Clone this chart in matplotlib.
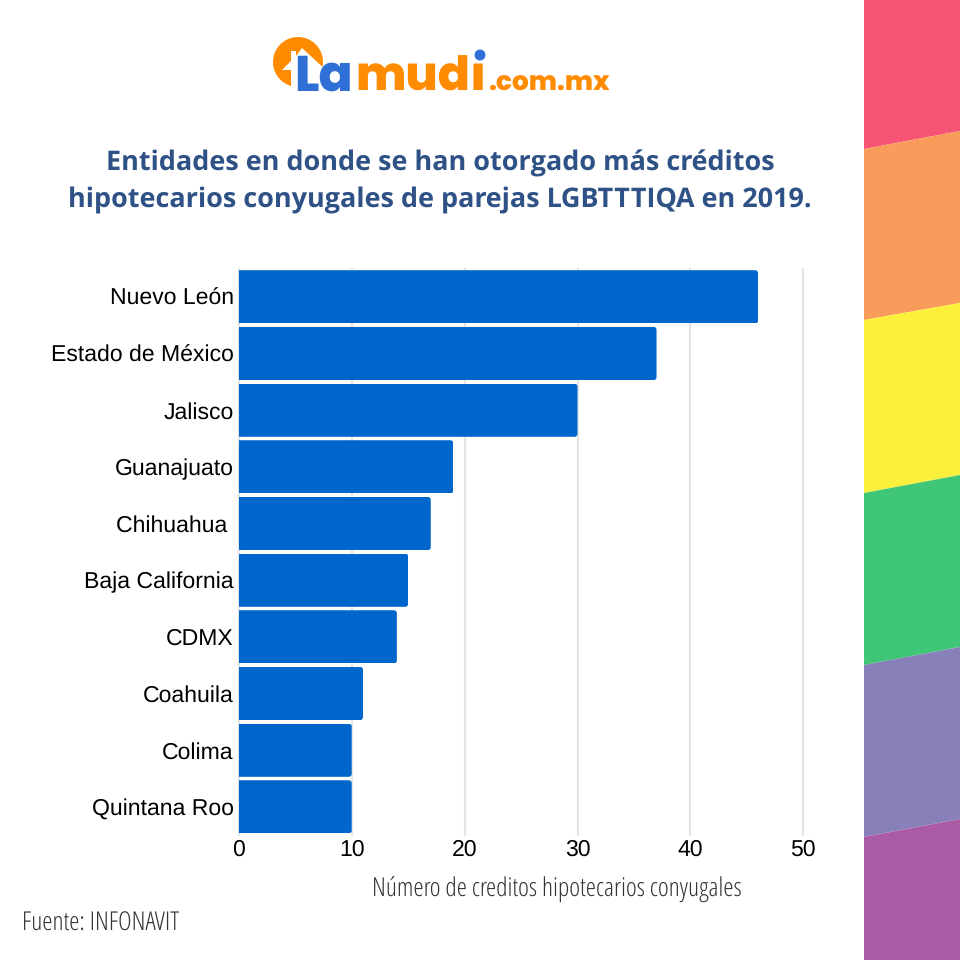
import matplotlib
matplotlib.use("Agg")
import matplotlib.pyplot as plt
from matplotlib.patches import FancyBboxPatch, Polygon, Circle, Wedge

plt.rcParams["text.hinting"] = "no_hinting"
plt.rcParams["text.hinting_factor"] = 1

states = ["Nuevo León", "Estado de México", "Jalisco", "Guanajuato", "Chihuahua\u00a0",
          "Baja California", "CDMX", "Coahuila", "Colima", "Quintana Roo"]
credits = [46, 37, 30, 19, 17, 15, 14, 11, 10, 10]
xticks = [0, 10, 20, 30, 40, 50]
title_lines = ["Entidades en donde se han otorgado más créditos",
               "hipotecarios conyugales de parejas LGBTTTIQA en 2019."]
xlabel = "Número de creditos hipotecarios conyugales"
source = "Fuente: INFONAVIT"
stripe_colors = ["#f55474", "#f99b5a", "#fcf03c", "#40c678", "#8880b8", "#ab5ba6"]

BLUE = "#0066cc"
W = H = 960
fig = plt.figure(figsize=(9.6, 9.6), dpi=100, facecolor="white")

bg = fig.add_axes([0, 0, 1, 1])
bg.set_xlim(0, W); bg.set_ylim(H, 0); bg.axis("off")

# rainbow stripes
edges = [(-20, -20), (149, 131), (320, 303), (493, 475), (665, 647), (837, 819), (980, 980)]
for i, c in enumerate(stripe_colors):
    bg.add_patch(Polygon([(864, edges[i][0]), (960, edges[i][1]), (960, edges[i+1][1]), (864, edges[i+1][0])],
                         closed=True, fc=c, ec="none"))

# logo
ORANGE = "#ff8c00"
LOGO_BLUE = "#2f6fd6"
bg.add_patch(Wedge((298, 62), 25, 0, 360, fc=ORANGE, ec="none"))
bg.add_patch(Polygon([(282, 70), (291, 61), (291, 51), (296, 51), (296, 56), (302, 48), (326, 70),
                      (326, 95), (291, 95), (291, 70)], closed=True, fc="white", ec="none"))
logo_font = dict(family=["Poppins", "DejaVu Sans"], fontweight=800, va="baseline", ha="left")
bg.text(294, 91, "La", color=LOGO_BLUE, fontsize=36, **logo_font)
bg.text(355, 91, "mudı", color=ORANGE, fontsize=34, **logo_font)
bg.add_patch(Circle((480, 55), 5.5, fc=LOGO_BLUE, ec="none"))
bg.text(488, 91, ".com.mx", color=ORANGE, fontsize=19, **logo_font)

# title
for line, y in zip(title_lines, [163, 200]):
    bg.text(440, y, line, color="#2f5286", fontsize=19.35, fontweight="bold",
            family="Open Sans", ha="center", va="center")

# chart
L, R, T, B = 238.8, 803.3, 268.5, 835.2
ax = fig.add_axes([L / W, 1 - B / H, (R - L) / W, (B - T) / H], facecolor="none")
ypos = list(range(len(states)))
ax.set_xlim(0, 50)
ax.set_ylim(len(states) - 0.5, -0.5)
ax.set_axisbelow(True)
ax.xaxis.grid(True, color="#e4e4e4", lw=1.5, clip_on=False)
ax.yaxis.grid(False)
bars = ax.barh(ypos, credits, height=0.94, color=BLUE, zorder=3)

# round the corners of each bar by clipping it with a rounded box
px_x = (R - L) / 50
px_y = (B - T) / len(states)
for r in bars:
    clip = FancyBboxPatch((-1, r.get_y()), r.get_width() + 1, r.get_height(),
                          boxstyle=f"round,pad=0,rounding_size={3 / px_x}",
                          mutation_aspect=px_x / px_y, transform=ax.transData)
    r.set_clip_path(clip)

for s in ax.spines.values():
    s.set_visible(False)
ax.set_xticks(xticks)
ax.set_yticks(ypos)
ax.set_yticklabels(states)
ax.tick_params(axis="both", length=0, labelcolor="#000000")
ax.tick_params(axis="y", pad=3.6)
ax.tick_params(axis="x", pad=3)
for t in ax.get_xticklabels() + ax.get_yticklabels():
    t.set_fontfamily("Liberation Sans")
    t.set_fontsize(16.35)

cond = dict(family="Open Sans", fontstretch="condensed", fontweight="light", fontsize=18.7, color="#333333", va="center")
bg.text(557, 890, xlabel, ha="center", **cond)
bg.text(22, 924, source, ha="left", **cond)

fig.savefig("out.png", dpi=100, facecolor="white")
